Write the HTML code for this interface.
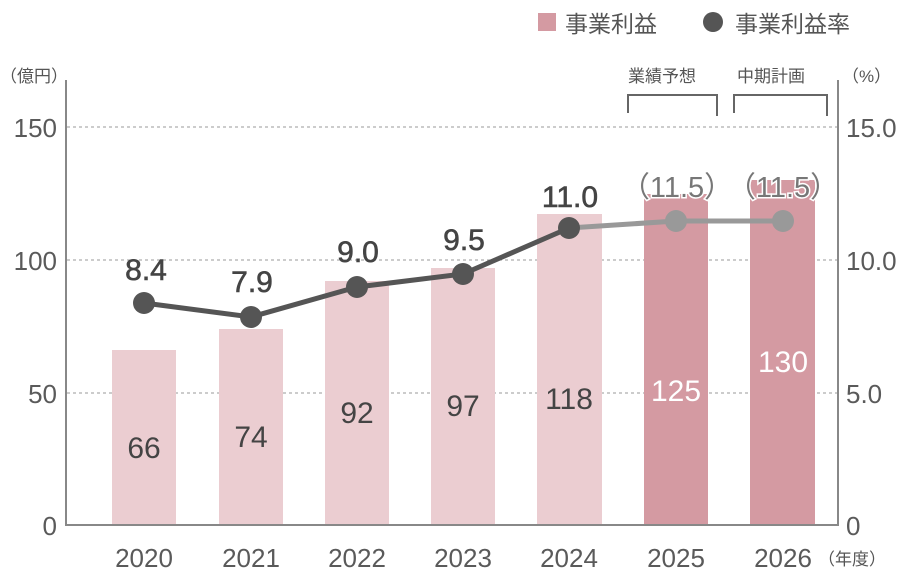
<!DOCTYPE html>
<html><head><meta charset="utf-8"><style>
html,body{margin:0;padding:0;background:#fff}
svg{display:block}
text{font-family:"Liberation Sans","Noto Sans CJK JP",sans-serif}
</style></head><body>
<svg width="910" height="579" viewBox="0 0 910 579" xmlns="http://www.w3.org/2000/svg">
<rect x="538" y="13" width="18" height="18" fill="#d49aa2"/>
<text x="565" y="32" font-size="23" fill="#555">事業利益</text>
<circle cx="713" cy="22" r="10" fill="#555"/>
<text x="735" y="32" font-size="23" fill="#555">事業利益率</text>
<text x="0" y="82" font-size="17" fill="#555">（億円）</text>
<text x="842" y="82" font-size="17" fill="#555">（%）</text>
<text x="628" y="82" font-size="17" fill="#555">業績予想</text>
<text x="737" y="82" font-size="17" fill="#555">中期計画</text>
<path d="M628 113 V95 H717 V116" fill="none" stroke="#666" stroke-width="2"/>
<path d="M734 113 V95 H827 V116" fill="none" stroke="#666" stroke-width="2"/>
<g stroke="#999" stroke-width="1" stroke-dasharray="3,3">
<line x1="67" y1="127" x2="838" y2="127"/>
<line x1="67" y1="260" x2="838" y2="260"/>
<line x1="67" y1="393" x2="838" y2="393"/>
</g>
<g fill="#ebcdd1">
<rect x="112" y="350" width="64" height="175"/>
<rect x="219" y="329" width="64" height="196"/>
<rect x="325" y="281" width="64" height="244"/>
<rect x="431" y="268" width="64" height="257"/>
<rect x="537" y="214" width="65" height="311"/>
</g>
<g fill="#d49aa2">
<rect x="644" y="194" width="64" height="331"/>
<rect x="750" y="180" width="65" height="345"/>
</g>
<line x1="66" y1="80" x2="66" y2="526" stroke="#888" stroke-width="2"/>
<line x1="838" y1="80" x2="838" y2="526" stroke="#888" stroke-width="2"/>
<line x1="66" y1="525" x2="838" y2="525" stroke="#888" stroke-width="2"/>
<g font-size="26" fill="#5a5a5a" text-anchor="end">
<text x="57" y="137">150</text>
<text x="57" y="270">100</text>
<text x="57" y="403">50</text>
<text x="57" y="535">0</text>
</g>
<g font-size="26" fill="#5a5a5a">
<text x="846" y="137">15.0</text>
<text x="846" y="270">10.0</text>
<text x="846" y="403">5.0</text>
<text x="846" y="535">0</text>
</g>
<g font-size="26" fill="#5a5a5a" text-anchor="middle">
<text x="144" y="567">2020</text>
<text x="251" y="567">2021</text>
<text x="357" y="567">2022</text>
<text x="463" y="567">2023</text>
<text x="569" y="567">2024</text>
<text x="676" y="567">2025</text>
<text x="783" y="567">2026</text>
</g>
<text x="818" y="565" font-size="17" fill="#555">（年度）</text>
<g font-size="30" text-anchor="middle" fill="#444">
<text x="144" y="458">66</text>
<text x="251" y="447">74</text>
<text x="357" y="423">92</text>
<text x="463" y="416">97</text>
<text x="569" y="409">118</text>
</g>
<g font-size="30" text-anchor="middle" fill="#fff">
<text x="676" y="401">125</text>
<text x="783" y="372">130</text>
</g>
<polyline points="569,228 676,221 783,221" fill="none" stroke="#999" stroke-width="5"/>
<polyline points="144,303 251,317 357,287 463,274 569,228" fill="none" stroke="#555" stroke-width="5"/>
<g fill="#555">
<circle cx="144" cy="303" r="11"/><circle cx="251" cy="317" r="11"/><circle cx="357" cy="287" r="11"/><circle cx="463" cy="274" r="11"/><circle cx="569" cy="228" r="11"/>
</g>
<g fill="#999"><circle cx="676" cy="221" r="11"/><circle cx="783" cy="221" r="11"/></g>
<g font-size="30" text-anchor="middle" fill="#444" stroke="#444" stroke-width="0.6">
<text x="146" y="280">8.4</text>
<text x="252" y="292">7.9</text>
<text x="358" y="262">9.0</text>
<text x="464" y="250">9.5</text>
<text x="570" y="207">11.0</text>
</g>
<g font-size="29" text-anchor="middle" fill="#777" stroke="#fff" stroke-width="3" paint-order="stroke">
<text x="677" y="197">（11.5）</text>
<text x="783" y="197">（11.5）</text>
</g>
</svg>
</body></html>
